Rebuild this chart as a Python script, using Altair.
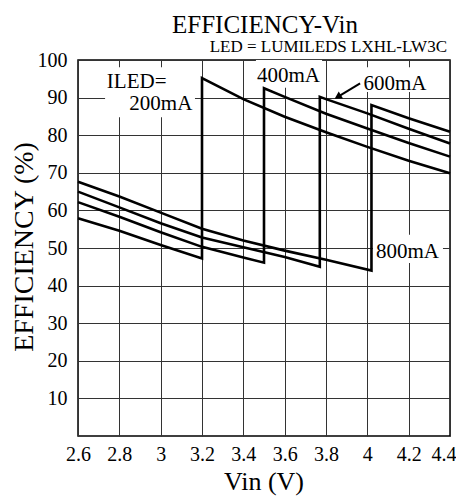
import altair as alt
import pandas as pd

# ---- data ----
currents = ["200mA", "400mA", "600mA", "800mA"]

v200_low = [2.6, 2.8, 3.0, 3.2]
e200_low = [57.9, 54.6, 50.8, 47.2]
v200_high = [3.2, 3.4, 3.6, 3.8, 4.0, 4.2, 4.4]
e200_high = [95.2, 89.6, 84.9, 80.8, 76.9, 73.2, 69.9]

v400_low = [2.6, 2.8, 3.0, 3.2, 3.4, 3.5]
e400_low = [62.2, 58.3, 54.2, 50.3, 47.5, 46.1]
v400_high = [3.5, 3.6, 3.8, 4.0, 4.2, 4.4]
e400_high = [92.5, 90.2, 85.7, 81.8, 77.9, 74.3]

v600_low = [2.6, 2.8, 3.0, 3.2, 3.4, 3.6, 3.77]
e600_low = [65.0, 60.8, 56.6, 52.8, 50.2, 47.6, 45.0]
v600_high = [3.77, 3.8, 4.0, 4.2, 4.4]
e600_high = [90.2, 89.6, 85.8, 81.7, 77.8]

v800_low = [2.6, 2.8, 3.0, 3.2, 3.4, 3.6, 3.8, 4.02]
e800_low = [67.6, 63.7, 59.4, 55.1, 52.0, 49.3, 46.9, 44.0]
v800_high = [4.02, 4.2, 4.4]
e800_high = [88.0, 84.5, 80.9]

x_ticks = [2.6, 2.8, 3.0, 3.2, 3.4, 3.6, 3.8, 4.0, 4.2, 4.4]
y_ticks = [10, 20, 30, 40, 50, 60, 70, 80, 90, 100]

# annotation labels
label_text = ["ILED=", "200mA", "400mA", "600mA", "800mA"]
label_v = [2.884, 3.001, 3.618, 4.134, 4.194]
label_e = [92.5, 86.7, 94.2, 92.0, 47.3]

# white label backgrounds
box_v1 = [2.731, 3.461, 3.965, 4.027]
box_v2 = [3.166, 3.781, 4.303, 4.366]
box_e1 = [84.8, 92.6, 91.5, 46.0]
box_e2 = [98.1, 100.0, 98.1, 53.5]

# arrow for 600mA
arrow_v = [3.965]
arrow_e = [93.8]
arrow_v2 = [3.857]
arrow_e2 = [90.2]

title_text = ["EFFICIENCY-Vin"]
subtitle_text = ["LED = LUMILEDS LXHL-LW3C"]
x_title = ["Vin (V)"]
y_title = ["EFFICIENCY (%)"]

# ---- build tables ----
series = {
    "200mA": (v200_low + v200_high, e200_low + e200_high),
    "400mA": (v400_low + v400_high, e400_low + e400_high),
    "600mA": (v600_low + v600_high, e600_low + e600_high),
    "800mA": (v800_low + v800_high, e800_low + e800_high),
}
rows = []
for c in currents:
    vs, es = series[c]
    for i, (v, e) in enumerate(zip(vs, es)):
        rows.append({"current": c, "Vin": v, "eff": e, "idx": i})
df = pd.DataFrame(rows)

labels_df = pd.DataFrame({"Vin": label_v, "eff": label_e, "label": label_text})
boxes_df = pd.DataFrame({"Vin": box_v1, "Vin2": box_v2, "eff": box_e1, "eff2": box_e2})
arrow_df = pd.DataFrame({"Vin": arrow_v, "eff": arrow_e, "Vin2": arrow_v2, "eff2": arrow_e2})
head_df = pd.DataFrame({"Vin": arrow_v2, "eff": arrow_e2})

FONT = "Liberation Serif"
xscale = alt.Scale(domain=[2.6, 4.4], nice=False, zero=False)
yscale = alt.Scale(domain=[0, 100], nice=False)

x_axis = alt.Axis(
    values=x_ticks, format="~g", title=None, grid=True, gridColor="#333333",
    gridWidth=1, gridOpacity=1, ticks=False, domain=False,
    labelFont=FONT, labelFontSize=20, labelColor="black", labelPadding=8,
    labelFlush=False, labelOverlap=False,
    labelAlign={"condition": {"test": "datum.value >= 4.39", "value": "right"}, "value": "center"},
    labelOffset={"condition": {"test": "datum.value >= 4.39", "value": 6}, "value": 0},
)
y_axis = alt.Axis(
    values=y_ticks, title=None, grid=True, gridColor="#333333",
    gridWidth=1, gridOpacity=1, ticks=False, domain=False,
    labelFont=FONT, labelFontSize=20, labelColor="black", labelPadding=11,
    labelFlush=False, labelOverlap=False,
)

X = alt.X("Vin:Q", scale=xscale, axis=x_axis)
Y = alt.Y("eff:Q", scale=yscale, axis=y_axis)

boxes = alt.Chart(boxes_df).mark_rect(color="white").encode(
    x=X, x2="Vin2:Q", y=Y, y2="eff2:Q",
)

lines = alt.Chart(df).mark_line(color="black", strokeWidth=2.6).encode(
    x=X, y=Y, detail="current:N", order="idx:Q",
)

texts = alt.Chart(labels_df).mark_text(
    font=FONT, fontSize=21, color="black", align="center", baseline="alphabetic"
).encode(x=X, y=Y, text="label:N")

arrow = alt.Chart(arrow_df).mark_rule(color="black", strokeWidth=2).encode(
    x=X, y=Y, x2="Vin2:Q", y2="eff2:Q",
)

head = alt.Chart(head_df).mark_point(
    shape="triangle-up", filled=True, color="black", opacity=1, size=70, angle=239
).encode(x=X, y=Y)

title = alt.Chart(pd.DataFrame({"t": title_text})).mark_text(
    font=FONT, fontSize=25, fontWeight="normal", color="black",
    align="center", baseline="alphabetic"
).encode(x=alt.value(187), y=alt.value(-27), text="t:N")

subtitle = alt.Chart(pd.DataFrame({"t": subtitle_text})).mark_text(
    font=FONT, fontSize=17, fontWeight="normal", color="black",
    align="right", baseline="alphabetic"
).encode(x=alt.value(369), y=alt.value(-8), text="t:N")

xtitle = alt.Chart(pd.DataFrame({"t": x_title})).mark_text(
    font=FONT, fontSize=26, fontWeight="normal", color="black",
    align="center", baseline="alphabetic"
).encode(x=alt.value(186), y=alt.value(430), text="t:N")

ytitle = alt.Chart(pd.DataFrame({"t": y_title})).mark_text(
    font=FONT, fontSize=28, fontWeight="normal", color="black",
    align="center", baseline="middle", angle=270
).encode(x=alt.value(-53), y=alt.value(187), text="t:N")

chart = alt.layer(
    boxes, lines, texts, arrow, head, title, subtitle, xtitle, ytitle
).properties(
    width=372,
    height=376,
    autosize=alt.AutoSizeParams(type="none"),
    padding={"left": 70, "top": 52, "right": 6, "bottom": 60},
).configure_view(stroke="black", strokeWidth=1.5)

chart.save("out.html", embed_options={"renderer": "svg", "actions": False})
